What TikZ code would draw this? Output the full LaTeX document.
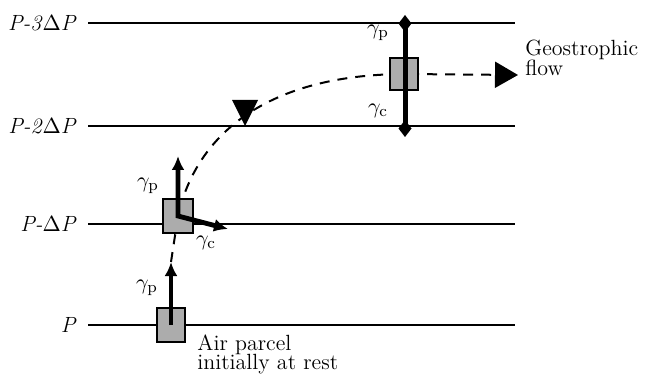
\documentclass[tikz,border=0pt]{standalone}
\usepackage{amsmath, amssymb}
\usepackage{tikz}
\usetikzlibrary{arrows.meta, positioning, calc}
\definecolor{parcelgray}{RGB}{172, 172, 172}

\begin{document}
\begin{tikzpicture}[
  x=0.5pt, y=-0.5pt,
  every node/.style={font=\fontsize{11}{10}\selectfont},
  level/.style={line width=1.2pt},
  lvl/.style={inner sep=0pt},
  parcel/.style={
    draw, fill=parcelgray, line width=1pt,
    minimum width=14pt, minimum height=17pt, inner sep=0pt
  },
  force/.style={line width=2.4pt, -{Latex[length=7pt, width=6.5pt]}},
  traj/.style={line width=1pt, dash pattern=on 5pt off 4pt},
  label/.style={inner sep=0pt},
  note/.style={inner sep=0pt, align=left, anchor=north west}
]
  \useasboundingbox (0,0) rectangle (654,374);

  % Livelli di pressione
  \coordinate (l3w) at (88,23);  \coordinate (l3e) at (515,23);
  \coordinate (l2w) at (88,126); \coordinate (l2e) at (515,126);
  \coordinate (l1w) at (88,224); \coordinate (l1e) at (515,224);
  \coordinate (l0w) at (88,325); \coordinate (l0e) at (515,325);
  \draw[level] (l3w) -- (l3e);
  \draw[level] (l2w) -- (l2e);
  \draw[level] (l1w) -- (l1e);
  \draw[level] (l0w) -- (l0e);
  \node[lvl, left=5.5pt of l3w] (lab3) {\textit{P-3}$\Delta$\textit{P}};
  \node[lvl, left=5.5pt of l2w] (lab2) {\textit{P-2}$\Delta$\textit{P}};
  \node[lvl, left=5.5pt of l1w] (lab1) {\textit{P-}$\Delta$\textit{P}};
  \node[lvl, left=5.5pt of l0w] (lab0) {\textit{P}};

  % Punti delle traiettorie
  \coordinate (c2) at (178,216);
  \coordinate (c3) at (404,74);
  \coordinate (tipA) at (171,262);
  \coordinate (tipB) at (178,156);
  \coordinate (tipC) at (228,229);
  \coordinate (topD) at (405,15);
  \coordinate (botD) at (405,137);
  \coordinate (flowend) at (518,75);

  % Traiettoria tratteggiata
  \draw[traj, -{Triangle[length=11.5pt, width=13pt]}] (tipA) -- (c2)
    .. controls (195,140) and (260,75) .. (c3) -- (flowend);
  \fill (232,100) -- (258,100) -- (245,126) -- cycle;

  % Particelle d'aria
  \node[parcel] (parcel1) at (171,325) {};
  \node[parcel, minimum width=15pt] (parcel2) at (c2) {};
  \node[parcel, minimum height=16pt] (parcel3) at (c3) {};

  % Forze
  \draw[force] (parcel1.center) -- (tipA);
  \draw[force, {Latex[length=7pt, width=6.5pt]}-{Latex[length=7pt, width=6.5pt]}]
    (tipB) -- (parcel2.center) -- (tipC);
  \draw[line width=2.5pt, {Diamond[length=8.5pt, width=6.5pt]}-{Diamond[length=8.5pt, width=6.5pt]}]
    (botD) -- (topD);

  % Etichette
  \node[label] (gp1) at (147,288) {$\gamma_{\mathrm{p}}$};
  \node[label] (gp2) at (148,186) {$\gamma_{\mathrm{p}}$};
  \node[label] (gc2) at (206,243) {$\gamma_{\mathrm{c}}$};
  \node[label] (gp3) at (378,33) {$\gamma_{\mathrm{p}}$};
  \node[label] (gc3) at (378,111) {$\gamma_{\mathrm{c}}$};
  \node[note] (geo) at (525,40) {Geostrophic\\flow};
  \node[note, font={\fontsize{11}{9.8}\selectfont}] (rest) at (197,334)
    {Air parcel\\initially at rest};

\end{tikzpicture}
\end{document}
